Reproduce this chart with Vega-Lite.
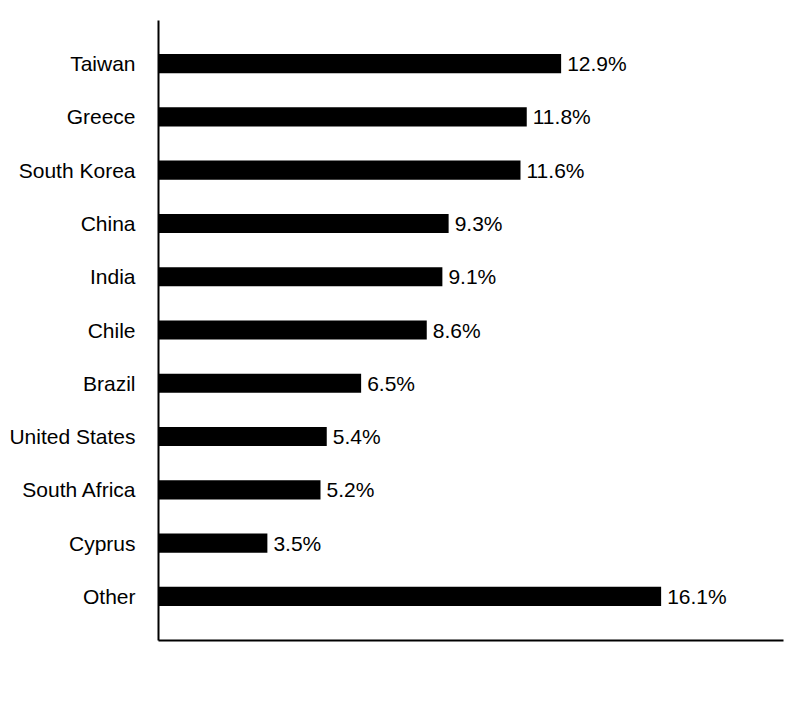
{
  "$schema": "https://vega.github.io/schema/vega-lite/v6.json",
  "width": 625,
  "height": 620,
  "autosize": {"type": "none"},
  "padding": {"left": 158, "top": 20, "right": 21, "bottom": 80},
  "data": {
    "values": [
      {"country": "Taiwan", "share": 12.9},
      {"country": "Greece", "share": 11.8},
      {"country": "South Korea", "share": 11.6},
      {"country": "China", "share": 9.3},
      {"country": "India", "share": 9.1},
      {"country": "Chile", "share": 8.6},
      {"country": "Brazil", "share": 6.5},
      {"country": "United States", "share": 5.4},
      {"country": "South Africa", "share": 5.2},
      {"country": "Cyprus", "share": 3.5},
      {"country": "Other", "share": 16.1}
    ]
  },
  "encoding": {
    "y": {
      "field": "country",
      "type": "nominal",
      "sort": null,
      "title": null,
      "scale": {"paddingInner": 0.64, "paddingOuter": 0.64},
      "axis": {
        "ticks": false,
        "labelPadding": 23,
        "labelOffset": 1.5,
        "labelFontSize": 21,
        "labelFont": "Liberation Sans",
        "labelColor": "#000",
        "domainColor": "#000",
        "domainWidth": 2,
        "grid": false
      }
    },
    "x": {
      "field": "share",
      "type": "quantitative",
      "title": null,
      "scale": {"domain": [0, 20], "nice": false},
      "axis": {
        "ticks": false,
        "labels": false,
        "grid": false,
        "domainColor": "#000",
        "domainWidth": 2
      }
    }
  },
  "layer": [
    {"mark": {"type": "bar", "color": "#000"}},
    {
      "transform": [
        {"calculate": "format(datum.share, '.1f') + '%'", "as": "label"}
      ],
      "mark": {
        "type": "text",
        "align": "left",
        "baseline": "middle",
        "dx": 6,
        "dy": 1.5,
        "font": "Liberation Sans",
        "fontSize": 21,
        "color": "#000"
      },
      "encoding": {
        "text": {"field": "label", "type": "nominal"}
      }
    }
  ],
  "config": {"view": {"stroke": null}}
}
